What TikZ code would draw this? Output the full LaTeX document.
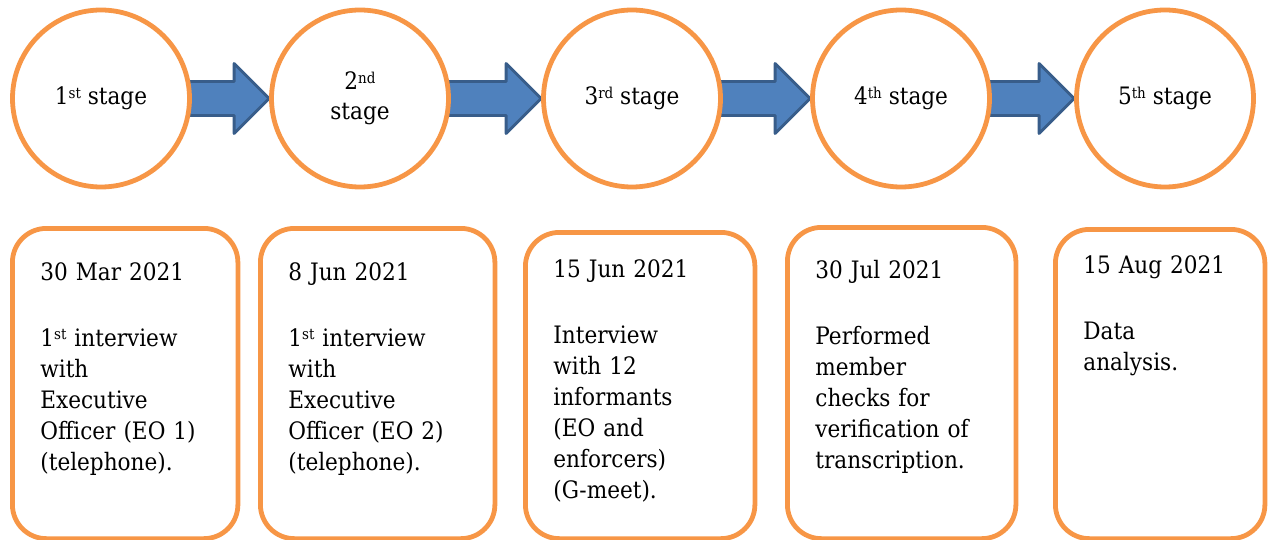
\documentclass[tikz,border=0pt]{standalone}
\usepackage{fontspec}
\setmainfont{DejaVu Serif}[FakeStretch=0.9]
\usetikzlibrary{calc,backgrounds}
\definecolor{stageorange}{HTML}{F79646}
\definecolor{arrowblue}{HTML}{4F81BD}
\definecolor{arrowdark}{HTML}{385D8A}
\newcommand\stagefont{\fontsize{24}{31}\selectfont}
\newcommand\ordsup[1]{\raisebox{6.5pt}{\fontsize{15}{15}\selectfont #1}}
\tikzset{
	stagecircle/.style={circle,draw=stageorange,line width=4.8pt,fill=white,minimum size=177pt,inner sep=0pt,align=center,font=\stagefont},
	blockarrow/.style={fill=arrowblue,draw=arrowdark,line width=2.8pt,line join=round},
	datebox/.style={draw=stageorange,line width=4.8pt,rounded corners=34pt,anchor=north west,align=left,inner xsep=28pt,inner ysep=0pt,font=\stagefont}
}
\begin{document}
\begin{tikzpicture}[x=1pt,y=-1pt]
				\useasboundingbox (0,0) rectangle (1268,540);
				\node[stagecircle] (s1) at (101,98.5) {1\ordsup{st} stage};
				\node[stagecircle] (s2) at (360,98.5) {2\ordsup{nd}\\[-1pt]stage};
				\node[stagecircle] (s3) at (632,98.5) {3\ordsup{rd} stage};
				\node[stagecircle] (s4) at (901,98.5) {4\ordsup{th} stage};
				\node[stagecircle] (s5) at (1165,98.5) {5\ordsup{th} stage};
				\begin{scope}[on background layer]
				\foreach \a/\b in {s1/s2,s2/s3,s3/s4,s4/s5}
					\draw[blockarrow] ($(\a.east)+(-3,-17)$) -- ($(\b.west)+(-35,-17)$) -- ($(\b.west)+(-35,-35)$) -- (\b.west) -- ($(\b.west)+(-35,35)$) -- ($(\b.west)+(-35,17)$) -- ($(\a.east)+(-3,17)$) -- cycle;
				\end{scope}
				\node[datebox,text width=169.5pt,text height=51.75pt,text depth=258.5pt] (d1) at (10,226) {30 Mar 2021\\[35pt]1\ordsup{st} interview\\with\\Executive\\Officer (EO 1)\\(telephone).};
				\node[datebox,text width=178.5pt,text height=51.75pt,text depth=258.5pt] (d2) at (258,226) {8 Jun 2021\\[35pt]1\ordsup{st} interview\\with\\Executive\\Officer (EO 2)\\(telephone).};
				\node[datebox,text width=173.5pt,text height=44.75pt,text depth=261.5pt] (d3) at (523,230) {15 Jun 2021\\[35pt]Interview\\with 12\\informants\\(EO and\\enforcers)\\(G-meet).};
				\node[datebox,text width=172.5pt,text height=50.75pt,text depth=260.5pt] (d4) at (785,225) {30 Jul 2021\\[35pt]Performed\\member\\checks for\\verification of\\transcription.};
				\node[datebox,text width=153.5pt,text height=43.75pt,text depth=265.5pt] (d5) at (1053,227) {15 Aug 2021\\[35pt]Data\\analysis.};
			\end{tikzpicture}
\end{document}
